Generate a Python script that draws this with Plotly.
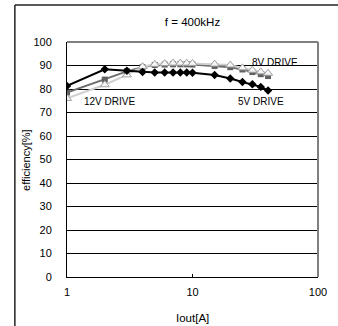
import plotly.graph_objects as go

# ---- data ----
iout = [1, 2, 3, 4, 5, 6, 7, 8, 9, 10, 15, 20, 25, 30, 35, 40]
eff_5v = [81.3, 88.4, 87.8, 87.2, 87.0, 87.0, 87.0, 87.0, 87.0, 86.9, 86.0, 84.5, 83.0, 82.0, 80.9, 79.4]
eff_8v = [78.5, 84.0, 87.5, 89.3, 90.2, 90.4, 90.5, 90.5, 90.5, 90.4, 89.8, 89.3, 88.3, 87.2, 86.3, 85.5]
eff_12v = [76.0, 81.8, 86.0, 89.5, 90.5, 90.8, 91.0, 91.0, 91.0, 90.9, 90.6, 90.2, 89.0, 88.0, 87.3, 86.7]
y_ticks = [0, 10, 20, 30, 40, 50, 60, 70, 80, 90, 100]
x_ticks = [1, 10, 100]

FONT = "Liberation Sans, Arial, sans-serif"

fig = go.Figure()
fig.add_trace(go.Scatter(
    x=iout, y=eff_8v, mode="lines+markers", name="8V DRIVE",
    line=dict(color="#6e6e6e", width=2),
    marker=dict(symbol="square", size=6, color="#606060"),
))
fig.add_trace(go.Scatter(
    x=iout, y=eff_12v, mode="lines+markers", name="12V DRIVE",
    line=dict(color="#d0d0d0", width=2),
    marker=dict(symbol="triangle-up", size=8, color="#f6f6f6", line=dict(color="#a0a0a0", width=1)),
))
fig.add_trace(go.Scatter(
    x=iout, y=eff_5v, mode="lines+markers", name="5V DRIVE",
    line=dict(color="#000000", width=2),
    marker=dict(symbol="diamond", size=6.5, color="#000000"),
))

fig.update_layout(
    width=338, height=326,
    margin=dict(l=67, r=11, t=42, b=49),
    paper_bgcolor="white", plot_bgcolor="white",
    showlegend=False,
    font=dict(family=FONT, color="black", size=11),
    title=dict(text="f = 400kHz", x=0.5, xref="paper", y=1 - 22 / 326, yref="container",
               xanchor="center", yanchor="middle", font=dict(size=11.5, family=FONT)),
    xaxis=dict(type="log", range=[0, 2], tickvals=x_ticks, ticktext=[str(v) for v in x_ticks],
               showgrid=False, zeroline=False, showline=True, linecolor="black", linewidth=1,
               ticks="inside", ticklen=3, tickcolor="black", tickfont=dict(size=11),
               ticklabelstandoff=5),
    yaxis=dict(range=[0, 100], tickvals=y_ticks, showgrid=True, gridcolor="black", gridwidth=1,
               zeroline=False, showline=True, linecolor="black", linewidth=1,
               ticks="", tickfont=dict(size=11), ticklabelstandoff=12),
    shapes=[
        dict(type="line", xref="paper", yref="paper", x0=0, x1=1, y0=1, y1=1,
             line=dict(color="#808080", width=2)),
        dict(type="line", xref="paper", yref="paper", x0=1, x1=1, y0=0, y1=1,
             line=dict(color="#808080", width=2)),
        dict(type="line", xref="paper", yref="paper", x0=(13 - 67) / 260, x1=(13 - 67) / 260,
             y0=-0.3, y1=1 + 37 / 235, line=dict(color="#222222", width=1.5)),
        dict(type="line", xref="paper", yref="paper", x0=(13 - 67) / 260, x1=1.2,
             y0=1 + 37 / 235, y1=1 + 37 / 235, line=dict(color="#222222", width=1.5)),
    ],
    annotations=[
        dict(text="8V DRIVE", x=(282 - 67) / 260, y=1 - (62 - 42) / 235, xref="paper", yref="paper",
             showarrow=False, xanchor="center", yanchor="middle", font=dict(size=10)),
        dict(text="12V DRIVE", x=(111 - 67) / 260, y=1 - (102 - 42) / 235, xref="paper", yref="paper",
             showarrow=False, xanchor="center", yanchor="middle", font=dict(size=10)),
        dict(text="5V DRIVE", x=(268 - 67) / 260, y=1 - (102 - 42) / 235, xref="paper", yref="paper",
             showarrow=False, xanchor="center", yanchor="middle", font=dict(size=10)),
        dict(text="Iout[A]", x=0.5, y=-(318 - 277) / 235, xref="paper", yref="paper",
             showarrow=False, xanchor="center", yanchor="middle", font=dict(size=11.5)),
        dict(text="efficiency[%]", x=(24 - 67) / 260, y=0.5, xref="paper", yref="paper",
             showarrow=False, xanchor="center", yanchor="middle", textangle=-90, font=dict(size=11)),
    ],
)

fig.write_html("out.html", config={"displayModeBar": False},
               post_script="document.body.style.margin='0';")
